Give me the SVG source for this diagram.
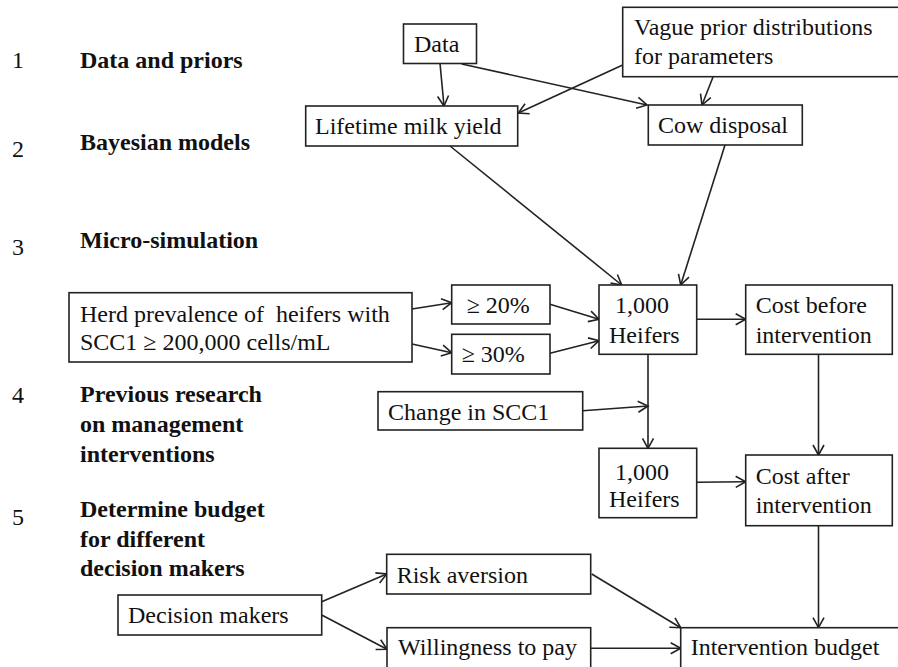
<svg xmlns="http://www.w3.org/2000/svg" width="898" height="667" viewBox="0 0 898 667">
<style>
.box{fill:#fff;stroke:#222;stroke-width:1.6}
.t{font-family:"Liberation Serif","Times New Roman",serif;font-size:24px;fill:#111}
.b{font-family:"Liberation Serif","Times New Roman",serif;font-size:24px;font-weight:bold;fill:#111}
.pre{white-space:pre}
.c line{stroke:#222;stroke-width:1.6;fill:none;marker-end:url(#arr)}
</style>
<defs>
<marker id="arr" markerUnits="userSpaceOnUse" markerWidth="14" markerHeight="14" viewBox="-12 -7 14 14" refX="0" refY="0" orient="auto">
<path d="M-10,-5.5 L0,0 L-10,5.5" fill="none" stroke="#222" stroke-width="1.6"/>
</marker>
</defs>
<rect width="898" height="667" fill="#fff"/>
<g id="stage-labels">
<text class="t" x="12" y="68">1</text>
<text class="b" x="80" y="68">Data and priors</text>
<text class="t" x="12" y="157">2</text>
<text class="b" x="80" y="150">Bayesian models</text>
<text class="t" x="12" y="255">3</text>
<text class="b" x="80" y="248">Micro-simulation</text>
<text class="t" x="12" y="403">4</text>
<text class="b" x="80" y="402">Previous research</text>
<text class="b" x="80" y="432">on management</text>
<text class="b" x="80" y="462">interventions</text>
<text class="t" x="12" y="525">5</text>
<text class="b" x="80" y="517">Determine budget</text>
<text class="b" x="80" y="547">for different</text>
<text class="b" x="80" y="576">decision makers</text>
</g>
<g class="c" id="connectors">
<line x1="440" y1="63.3" x2="444" y2="106"/>
<line x1="461.7" y1="64" x2="647" y2="105"/>
<line x1="622.7" y1="65" x2="518.3" y2="113"/>
<line x1="713" y1="77" x2="702" y2="105"/>
<line x1="450" y1="146" x2="621.7" y2="285"/>
<line x1="725" y1="145" x2="680.7" y2="285"/>
<line x1="412" y1="309" x2="451.7" y2="302.7"/>
<line x1="412" y1="344" x2="451.7" y2="352.7"/>
<line x1="550" y1="304.3" x2="599" y2="319.3"/>
<line x1="550" y1="353.3" x2="599" y2="340.7"/>
<line x1="696.7" y1="319.3" x2="745.7" y2="319.3"/>
<line x1="648" y1="354.3" x2="648" y2="448.3"/>
<line x1="582.7" y1="410.7" x2="648" y2="406"/>
<line x1="818.5" y1="354.3" x2="818.5" y2="455"/>
<line x1="696.7" y1="482.3" x2="745.7" y2="481.7"/>
<line x1="818.5" y1="525.7" x2="818.5" y2="627.7"/>
<line x1="321.7" y1="601.7" x2="386.7" y2="574"/>
<line x1="321.7" y1="615" x2="387" y2="649.3"/>
<line x1="591.7" y1="574" x2="680.7" y2="627.7"/>
<line x1="590.7" y1="648.3" x2="680.7" y2="648.3"/>
</g>
<g id="data"><rect class="box" x="403.5" y="24" width="73" height="39.5"/><text class="t" x="414" y="52">Data</text></g>
<g id="vague-priors"><rect class="box" x="622.7" y="7.3" width="300" height="69.4"/><text class="t" x="634" y="35">Vague prior distributions</text><text class="t" x="634" y="64">for parameters</text></g>
<g id="lifetime-milk-yield"><rect class="box" x="305.7" y="106" width="212" height="40"/><text class="t" x="315" y="134">Lifetime milk yield</text></g>
<g id="cow-disposal"><rect class="box" x="648.3" y="105" width="154" height="40"/><text class="t" x="658" y="133">Cow disposal</text></g>
<g id="herd-prevalence"><rect class="box" x="69" y="292.7" width="343" height="69.3"/><text class="t pre" x="80" y="321.7">Herd prevalence of  heifers with</text><text class="t" x="80" y="350">SCC1 ≥ 200,000 cells/mL</text></g>
<g id="p20"><rect class="box" x="451.7" y="285" width="98.3" height="39"/><text class="t" x="466.7" y="313">≥ 20%</text></g>
<g id="p30"><rect class="box" x="451.7" y="334.3" width="98.3" height="39.7"/><text class="t" x="461.7" y="362">≥ 30%</text></g>
<g id="heifers-1"><rect class="box" x="599" y="285" width="97.7" height="69.3"/><text class="t" x="615" y="313">1,000</text><text class="t" x="609" y="342.7">Heifers</text></g>
<g id="cost-before"><rect class="box" x="745.7" y="285" width="146.6" height="69.3"/><text class="t" x="755.7" y="313">Cost before</text><text class="t" x="755.7" y="342.7">intervention</text></g>
<g id="change-scc1"><rect class="box" x="378" y="391.7" width="204.7" height="38.3"/><text class="t" x="388" y="420">Change in SCC1</text></g>
<g id="heifers-2"><rect class="box" x="599" y="448.3" width="97.7" height="69.4"/><text class="t" x="615" y="480">1,000</text><text class="t" x="609" y="507">Heifers</text></g>
<g id="cost-after"><rect class="box" x="745.7" y="455" width="146.6" height="70.7"/><text class="t" x="755.7" y="484">Cost after</text><text class="t" x="755.7" y="513">intervention</text></g>
<g id="risk-aversion"><rect class="box" x="386.7" y="554.3" width="204" height="39.7"/><text class="t" x="396.7" y="583">Risk aversion</text></g>
<g id="willingness"><rect class="box" x="387" y="627.7" width="203.7" height="60"/><text class="t" x="398" y="655">Willingness to pay</text></g>
<g id="decision-makers"><rect class="box" x="118" y="595" width="203.7" height="40"/><text class="t" x="128" y="623">Decision makers</text></g>
<g id="intervention-budget"><rect class="box" x="680.7" y="627.7" width="260" height="60"/><text class="t" x="690.7" y="655">Intervention budget</text></g>
</svg>
